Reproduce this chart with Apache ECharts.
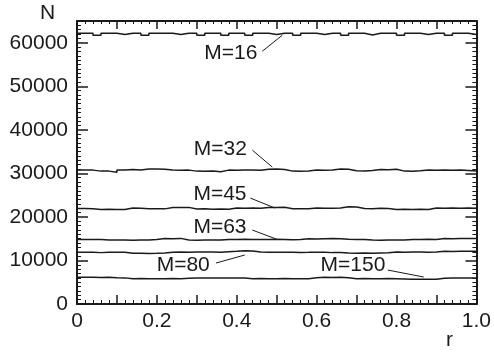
<!DOCTYPE html>
<html>
<head>
<meta charset="utf-8">
<script src="https://cdn.jsdelivr.net/npm/echarts@6/dist/echarts.min.js"></script>
<style>
html,body{margin:0;padding:0;background:#fff;}
#c{width:494px;height:355px;}
</style>
</head>
<body>
<div id="c"></div>
<script>
// bin left edges (50 bins of width 0.02) plus right end
const binEdges = [0,0.02,0.04,0.06,0.08,0.1,0.12,0.14,0.16,0.18,0.2,0.22,0.24,0.26,0.28,0.3,0.32,0.34,0.36,0.38,0.4,0.42,0.44,0.46,0.48,0.5,0.52,0.54,0.56,0.58,0.6,0.62,0.64,0.66,0.68,0.7,0.72,0.74,0.76,0.78,0.8,0.82,0.84,0.86,0.88,0.9,0.92,0.94,0.96,0.98,1.0];

const m16 = [62200,62200,61700,62200,62200,61900,62200,62200,61700,62200,
             62200,62200,61900,62200,62200,61700,62200,62200,61700,62200,
             62200,61700,62200,62200,61900,62200,62200,61700,62200,62200,
             61900,62200,62200,61700,62200,62200,61800,62200,62200,62200,
             61700,62200,62200,61900,62200,62200,61700,62200,62200,61900];
const m32 = [30750,30750,30520,30520,30250,30750,30900,30800,30980,31000,
             30950,30750,30700,30750,30520,30500,30550,30400,30750,30700,
             30800,30750,30700,30950,31000,30900,30520,30500,30550,30750,
             30700,30800,30980,30950,30600,30550,30650,30900,30850,30950,
             30520,30500,30600,30750,30700,30800,30700,30750,30650,30550];
const m45 = [21960,21900,21730,21780,21730,21700,22030,21980,21880,21900,
             21850,22190,22150,22190,21800,21850,21780,21800,21760,22030,
             21980,22030,22000,22190,22150,22200,21880,21850,21900,22030,
             22000,21980,22050,22340,22300,21960,21900,21980,21940,21730,
             21780,21700,21750,21730,22030,21980,22050,22000,22030,21980];
const m63 = [14840,14840,14800,14690,14720,14690,14650,14700,14690,14840,
             15070,15000,15070,14690,14650,14720,14690,14700,14840,14800,
             14880,14840,14800,14840,14880,14840,14780,14840,14990,14950,
             14990,15020,14990,14880,14840,14800,14690,14650,14700,14690,
             14720,14840,14800,14880,14840,15070,15000,15070,15050,15070];
const m80 = [11860,11860,11800,11860,11900,11860,11630,11650,11600,11630,
             11700,11860,11930,11900,11930,11960,11930,11900,12000,12100,
             12240,12180,11950,11900,11860,11880,11860,11840,11860,11900,
             11860,11800,11850,11700,11650,11700,11680,11720,11760,11930,
             11900,11960,11930,11900,11950,12090,12050,12090,12100,12090];
const m150 = [6120,6120,6080,6120,6050,6000,5810,5850,5810,5780,
              5810,5850,5810,5900,5950,5970,5990,5970,5950,5990,
              5970,5810,5850,5780,5810,5850,5810,5800,5820,6050,
              6120,6100,6120,6050,5810,5850,5790,5810,5830,5810,
              5760,5700,5660,5690,5660,5900,5970,5950,5990,5970];

const labels = ['M=16','M=32','M=45','M=63','M=80','M=150'];
const labelPos = [[0.385,57600],[0.359,35460],[0.358,25245],[0.358,17560],[0.266,8950],[0.691,8950]];
const arrowFrom = [[0.464,58060],[0.439,35340],[0.434,24330],[0.439,16980],[0.348,9410],[0.778,7800]];
const arrowTo = [[0.514,61730],[0.489,31440],[0.496,22030],[0.499,14920],[0.420,11250],[0.868,6200]];

const xTickLabels = {0:'0',2:'0.2',4:'0.4',6:'0.6',8:'0.8',10:'1.0'};

const FONT = 'Liberation Sans, Arial, Helvetica, sans-serif';
const INK = '#1a1a1a';

function pts(vals){
  const out = [];
  for (let i=0;i<vals.length;i++) out.push([binEdges[i], vals[i]]);
  out.push([binEdges[vals.length], vals[vals.length-1]]);
  return out;
}

const allVals = [m16,m32,m45,m63,m80,m150];
const series = allVals.map((v,i)=>({
  type:'line',
  step:'end',
  data: pts(v),
  symbol:'none',
  lineStyle:{color:INK,width:1.5},
  silent:true,
  markPoint:{
    symbol:'circle', symbolSize:1,
    itemStyle:{color:'rgba(0,0,0,0)'},
    label:{show:true,position:'inside',formatter:labels[i],color:INK,fontSize:21,fontFamily:FONT},
    data:[{coord:labelPos[i]}]
  },
  markLine:{
    silent:true,
    symbol:['none','arrow'],
    symbolSize:[0,7],
    lineStyle:{color:INK,width:1,type:'solid'},
    label:{show:false},
    data:[[{coord:arrowFrom[i]},{coord:arrowTo[i]}]]
  }
}));

const axisLineStyle = {show:true,onZero:false,lineStyle:{color:INK,width:2}};
const chart = echarts.init(document.getElementById('c'));
chart.setOption({
  animation:false,
  backgroundColor:'#fff',
  grid:{left:77,right:12.5,top:21,bottom:51,containLabel:false},
  graphic:[
    {type:'text',left:40,top:3,style:{text:'N',font:'21px '+FONT,fill:INK}},
    {type:'text',left:446,top:330,style:{text:'r',font:'21px '+FONT,fill:INK}}
  ],
  xAxis:[{
    type:'value',min:0,max:1,interval:0.1,position:'bottom',
    axisLine:axisLineStyle,
    axisTick:{show:true,inside:false,length:-9,lineStyle:{color:INK,width:1.5}},
    minorTick:{show:true,splitNumber:5,length:-4,lineStyle:{color:INK,width:1}},
    splitLine:{show:false},minorSplitLine:{show:false},
    axisLabel:{margin:7,color:INK,fontSize:21,fontFamily:FONT,
      formatter:v=>{const k=Math.round(v*10);return xTickLabels[k]!==undefined?xTickLabels[k]:'';}}
  },{
    type:'value',min:0,max:1,interval:0.1,position:'top',
    axisLine:axisLineStyle,
    axisTick:{show:true,inside:false,length:-8,lineStyle:{color:INK,width:1.5}},
    minorTick:{show:true,splitNumber:5,length:-3,lineStyle:{color:INK,width:1}},
    splitLine:{show:false},axisLabel:{show:false}
  }],
  yAxis:[{
    type:'value',min:0,max:65000,interval:10000,position:'left',
    axisLine:axisLineStyle,
    axisTick:{show:true,inside:false,length:-11,lineStyle:{color:INK,width:1.5}},
    minorTick:{show:true,splitNumber:10,length:-4,lineStyle:{color:INK,width:1}},
    splitLine:{show:false},minorSplitLine:{show:false},
    axisLabel:{margin:9,color:INK,fontSize:21,fontFamily:FONT,padding:[7,0,0,0],
      formatter:v=>(v%10000===0?String(v):'')}
  },{
    type:'value',min:0,max:65000,interval:10000,position:'right',
    axisLine:axisLineStyle,
    axisTick:{show:true,inside:false,length:-11,lineStyle:{color:INK,width:1.5}},
    minorTick:{show:true,splitNumber:10,length:-4,lineStyle:{color:INK,width:1}},
    splitLine:{show:false},axisLabel:{show:false}
  }],
  series: series
});
</script>
</body>
</html>
